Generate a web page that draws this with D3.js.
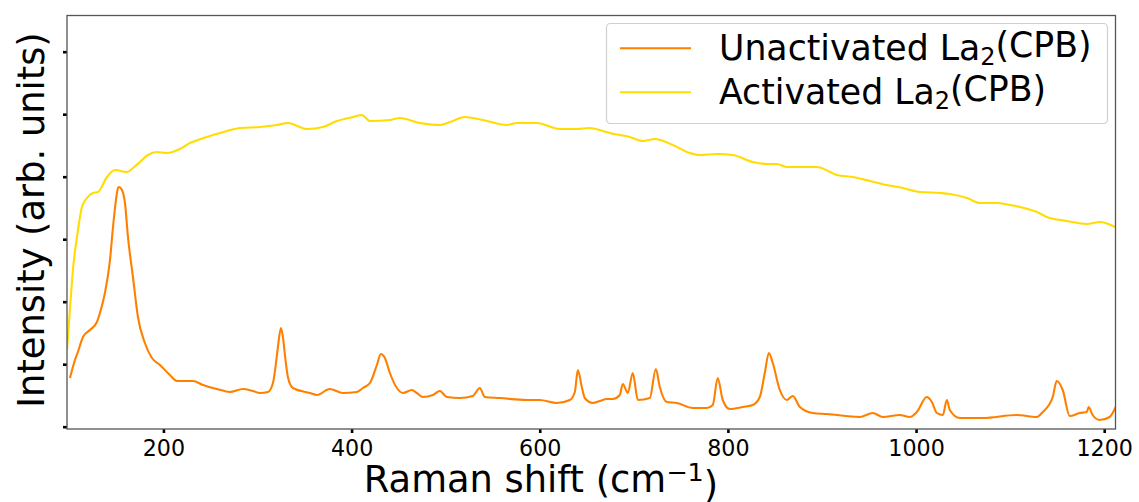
<!DOCTYPE html>
<html>
<head>
<meta charset="utf-8">
<script src="https://cdn.jsdelivr.net/npm/d3@7"></script>
<style>
  body { margin: 0; background: #fff; }
  svg text { font-family: "DejaVu Sans", sans-serif; fill: #000; }
</style>
</head>
<body>
<div id="chart"></div>
<script>
// Raman shift (cm-1) and intensity (arb. units)
var unactShift = [100.6, 106, 109.1, 114.5, 121.9, 129.3, 132.5, 137.8, 143.2, 146.4, 150.6, 151.7, 152.7, 155.9,
  159.1, 162.3, 167.6, 172.9, 180.3, 187.8, 196.3, 206.9, 214.3, 225, 231.3, 242, 256.9, 270.7, 284.5, 295.1,
  302.5, 311.1, 316.4, 319.5, 321.7, 324.9, 327, 329.5, 332.3, 337.6, 355.7, 363.1, 376.9, 390.7, 405.6, 412,
  419.5, 426.9, 431.1, 435.4, 440.7, 448.2, 454.5, 464.1, 469.4, 475.8, 486.4, 493.8, 501.3, 515.1, 528.9,
  536.3, 541.7, 557.6, 586.3, 600.1, 618.2, 632, 637.3, 640.5, 644.7, 647.9, 656.4, 663.9, 671.3, 677.7, 685.1,
  688.3, 693.6, 698.9, 704.3, 717, 723.4, 727.6, 735.1, 745.7, 762.7, 777.6, 783.9, 789.2, 794.5, 802, 815.8,
  826.5, 833.9, 839.2, 843.5, 847.7, 855.2, 862.6, 869, 876.5, 890.3, 905.1, 940.2, 954, 964.7, 982.7, 993.4,
  1000.8, 1011.4, 1016.8, 1022.1, 1028.5, 1032.7, 1035.9, 1046.5, 1071, 1107, 1128.3, 1134.7, 1145.3, 1149.5,
  1155.9, 1163.3, 1173.9, 1181.4, 1183.5, 1187.7, 1195.2, 1205.8, 1212.2];
var unactIntensity = [779, 1067, 1195, 1435, 1547, 1675, 1819, 2139, 2667, 3195, 3739, 3819, 3835, 3787,
  3579, 3035, 2395, 1755, 1339, 1099, 987, 827, 731, 731, 731, 667, 603, 555, 603, 571,
  539, 555, 699, 1000, 1275, 1579, 1435, 1100, 795, 619, 539, 507, 603, 539, 555, 619,
  699, 987, 1163, 1099, 859, 619, 539, 587, 539, 475, 507, 571, 475, 459, 491,
  619, 475, 459, 427, 427, 379, 427, 555, 907, 635, 459, 379, 411, 443, 443, 507,
  683, 539, 859, 427, 459, 923, 635, 395, 379, 299, 299, 347, 779, 427, 283, 315,
  347, 475, 859, 1179, 1019, 587, 427, 491, 315, 219, 203, 155, 219, 155, 187, 155,
  235, 475, 395, 219, 187, 427, 267, 139, 139, 187, 155, 235, 475, 731,
  587, 171, 219, 235, 315, 187, 107, 155, 315];

var actShift = [97.5, 100.6, 103.8, 108.1, 113.4, 118.7, 125.1, 130.4, 140, 148.5, 161.2, 167.6, 175.1, 183.5,
  193.1, 203.7, 217.5, 228.2, 246.2, 260, 281.3, 302.5, 320.6, 332.3, 352.5, 369.5, 384.4, 401.4, 411, 419.5,
  440.7, 451.3, 472.6, 493.8, 507.6, 520.4, 528.9, 539.5, 565, 575.7, 596.9, 621.4, 639.4, 653.2, 667.1, 674.5,
  695.8, 709.6, 722.3, 741.5, 759.5, 770.2, 788.2, 805.2, 826.5, 841.4, 852.1, 862.7, 876.5, 894.6, 915.9,
  932.9, 951, 969, 986, 1004.1, 1025.4, 1036, 1054.1, 1067.9, 1086, 1099.8, 1110.4, 1128.5, 1139.1, 1160.4,
  1181.6, 1195.4, 1211.4];
var actIntensity = [1227, 1867, 2507, 3035, 3515, 3659, 3739, 3755, 3995, 4107, 4075, 4139, 4235, 4347,
  4395, 4379, 4443, 4539, 4635, 4699, 4779, 4795, 4827, 4859, 4763, 4795, 4891, 4955, 4987, 4891,
  4907, 4939, 4859, 4827, 4891, 4955, 4939, 4907, 4827, 4859, 4859, 4763, 4763, 4779, 4731, 4699,
  4635, 4571, 4603, 4507, 4379, 4347, 4363, 4347, 4235, 4203, 4203, 4155, 4155, 4155, 4027,
  3995, 3931, 3867, 3819, 3755, 3739, 3723, 3659, 3579, 3579, 3547, 3515, 3435, 3355, 3291,
  3243, 3275, 3195];

var seriesNames = ["Unactivated La", "Activated La"];
var seriesColors = ["#ff8000", "#ffdd00"];
var xTicks = [200, 400, 600, 800, 1000, 1200];
var yTicks = [0, 1000, 2000, 3000, 4000, 5000, 6000];

var W = 1139, H = 502;
var margin = {top: 15.5, right: 23.5, bottom: 73, left: 67};

var svg = d3.select("#chart").append("svg")
  .attr("width", W).attr("height", H);

var x = d3.scaleLinear().domain([97.5, 1212]).range([margin.left, W - margin.right]);
var y = d3.scaleLinear().domain([-37, 6579]).range([H - margin.bottom, margin.top]);

svg.append("clipPath").attr("id", "clip")
  .append("rect")
  .attr("x", margin.left).attr("y", margin.top)
  .attr("width", W - margin.left - margin.right)
  .attr("height", H - margin.top - margin.bottom);

var line = d3.line()
  .x(function(d) { return x(d[0]); })
  .y(function(d) { return y(d[1]); })
  .curve(d3.curveMonotoneX);

var unact = d3.zip(unactShift, unactIntensity);
var act = d3.zip(actShift, actIntensity);

var plot = svg.append("g").attr("clip-path", "url(#clip)");
[unact, act].forEach(function(s, i) {
  plot.append("path")
    .datum(s)
    .attr("fill", "none")
    .attr("stroke", seriesColors[i])
    .attr("stroke-width", 2.1)
    .attr("stroke-linejoin", "round")
    .attr("d", line);
});

// axes: ticks only, labels on x
var xAxis = svg.append("g")
  .attr("transform", "translate(0," + (H - margin.bottom) + ")")
  .call(d3.axisBottom(x).tickValues(xTicks).tickSize(4).tickPadding(7).tickFormat(d3.format("d")));
xAxis.select(".domain").remove();
xAxis.selectAll(".tick line").attr("stroke", "#000").attr("stroke-width", 2.6);
xAxis.selectAll(".tick text").style("font-size", "22.2px").style("font-family", "DejaVu Sans");

var yAxis = svg.append("g")
  .attr("transform", "translate(" + margin.left + ",0)")
  .call(d3.axisLeft(y).tickValues(yTicks).tickSize(4).tickFormat(""));
yAxis.select(".domain").remove();
yAxis.selectAll(".tick line").attr("stroke", "#000").attr("stroke-width", 2.6);

// frame
svg.append("rect")
  .attr("x", margin.left).attr("y", margin.top)
  .attr("width", W - margin.left - margin.right)
  .attr("height", H - margin.top - margin.bottom)
  .attr("fill", "none")
  .attr("stroke", "#555")
  .attr("stroke-width", 1.3);

// axis labels
var xl = svg.append("text")
  .attr("x", 541).attr("y", 492)
  .attr("text-anchor", "middle")
  .style("font-size", "36.8px");
xl.append("tspan").text("Raman shift (cm");
xl.append("tspan").attr("dy", "-0.42em").style("font-size", "25.5px").text("\u22121");
xl.append("tspan").attr("dy", "0.42em").text(")");

svg.append("text")
  .attr("transform", "translate(44,220) rotate(-90)")
  .attr("text-anchor", "middle")
  .style("font-size", "36.8px")
  .text("Intensity (arb. units)");

// legend
var lg = svg.append("g");
lg.append("rect")
  .attr("x", 606.5).attr("y", 23.5)
  .attr("width", 501).attr("height", 100)
  .attr("rx", 4)
  .attr("fill", "#fff").attr("fill-opacity", 0.8)
  .attr("stroke", "#d0d0d0").attr("stroke-width", 1.2);

seriesNames.forEach(function(name, i) {
  var ly = 48.3 + i * 44;
  lg.append("line")
    .attr("x1", 620).attr("x2", 691)
    .attr("y1", ly).attr("y2", ly)
    .attr("stroke", seriesColors[i]).attr("stroke-width", 2.1);
  var t = lg.append("text")
    .attr("x", 719).attr("y", ly + 11.5)
    .style("font-size", "34.7px");
  t.append("tspan").text(name);
  t.append("tspan").attr("dy", "0.22em").style("font-size", "24px").text("2");
  t.append("tspan").attr("dy", "-0.22em").text("(CPB)");
});
</script>
</body>
</html>
